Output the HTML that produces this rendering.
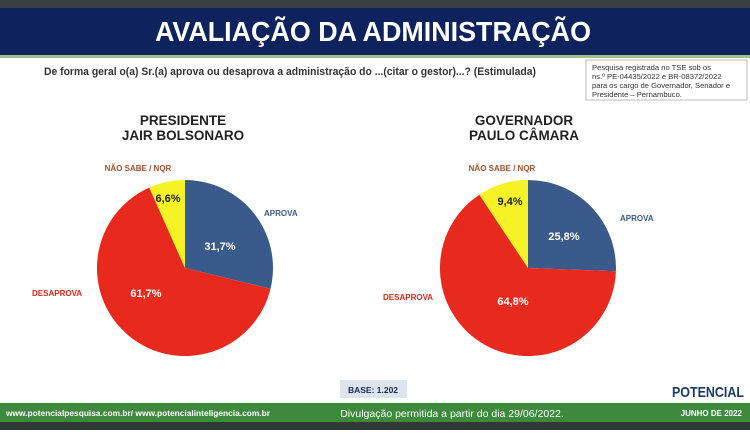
<!DOCTYPE html>
<html><head><meta charset="utf-8"><style>
body{margin:0;width:750px;height:430px;overflow:hidden;background:#fff;font-family:"Liberation Sans",sans-serif}
</style></head><body>
<svg width="750" height="430" xmlns="http://www.w3.org/2000/svg" font-family="Liberation Sans, sans-serif">
<rect x="0" y="0" width="750" height="8" fill="#3a3f44"/>
<rect x="0" y="8" width="750" height="47" fill="#0e235e"/>
<rect x="0" y="55" width="750" height="3" fill="#9bc48a"/>
<text x="155" y="41" font-size="28" font-weight="bold" fill="#fff" textLength="436" lengthAdjust="spacingAndGlyphs">AVALIAÇÃO DA ADMINISTRAÇÃO</text>
<text x="44" y="75" font-size="11" font-weight="bold" fill="#333" textLength="492" lengthAdjust="spacingAndGlyphs">De forma geral o(a) Sr.(a) aprova ou desaprova a administração do ...(citar o gestor)...? (Estimulada)</text>
<rect x="586" y="60" width="161" height="40" fill="#fff" stroke="#bbb"/>
<g font-size="7.6" fill="#333"><text x="592" y="70">Pesquisa registrada no TSE sob os</text><text x="592" y="79">ns.º PE-04435/2022 e BR-08372/2022</text><text x="592" y="88">para os cargo de Governador, Senador e</text><text x="592" y="97">Presidente – Pernambuco.</text></g>

<g font-weight="bold">
<text x="183" y="125" text-anchor="middle" font-size="13.5" fill="#222">PRESIDENTE</text>
<text x="183" y="140" text-anchor="middle" font-size="13.5" fill="#222">JAIR BOLSONARO</text>
<path d="M185,268 L185,180 A88,88 0 0,1 270.5,288.8 Z" fill="#3b5a8c"/>
<path d="M185,268 L270.5,288.8 A88,88 0 1,1 149.3,187.6 Z" fill="#e8291e"/>
<path d="M185,268 L149.3,187.6 A88,88 0 0,1 185,180 Z" fill="#f6f226"/>
<text x="220" y="250" text-anchor="middle" font-size="11" fill="#fff">31,7%</text>
<text x="146" y="297" text-anchor="middle" font-size="11" fill="#fff">61,7%</text>
<text x="168" y="202" text-anchor="middle" font-size="11" fill="#222">6,6%</text>
<text x="138" y="171" text-anchor="middle" font-size="8" fill="#a0522d">NÃO SABE / NQR</text>
<text x="264" y="216" font-size="8" fill="#3b5a8c">APROVA</text>
<text x="32" y="296" font-size="8" fill="#d9281e">DESAPROVA</text>

<text x="524" y="125" text-anchor="middle" font-size="13.5" fill="#222">GOVERNADOR</text>
<text x="524" y="140" text-anchor="middle" font-size="13.5" fill="#222">PAULO CÂMARA</text>
<path d="M528,268 L528,180 A88,88 0 0,1 615.9,271.3 Z" fill="#3b5a8c"/>
<path d="M528,268 L615.9,271.3 A88,88 0 1,1 479.4,194.7 Z" fill="#e8291e"/>
<path d="M528,268 L479.4,194.7 A88,88 0 0,1 528,180 Z" fill="#f6f226"/>
<text x="564" y="240" text-anchor="middle" font-size="11" fill="#fff">25,8%</text>
<text x="513" y="305" text-anchor="middle" font-size="11" fill="#fff">64,8%</text>
<text x="510" y="205" text-anchor="middle" font-size="11" fill="#222">9,4%</text>
<text x="502" y="171" text-anchor="middle" font-size="8" fill="#a0522d">NÃO SABE / NQR</text>
<text x="620" y="221" font-size="8" fill="#3b5a8c">APROVA</text>
<text x="383" y="300" font-size="8" fill="#d9281e">DESAPROVA</text>
</g>

<rect x="340" y="380" width="67" height="18" fill="#dde4ee"/>
<text x="373" y="393" text-anchor="middle" font-size="8.5" font-weight="bold" fill="#1a2a5a">BASE: 1.202</text>
<text x="708" y="397" font-size="15" font-weight="bold" fill="#1b3a6a" text-anchor="middle" textLength="72" lengthAdjust="spacingAndGlyphs">POTENCIAL</text>
<rect x="0" y="403" width="750" height="19" fill="#3e8a3c"/>
<rect x="0" y="422" width="750" height="8" fill="#2e3a33"/>
<text x="6" y="416" font-size="7.8" font-weight="bold" fill="#fff" textLength="264" lengthAdjust="spacingAndGlyphs">www.potencialpesquisa.com.br/ www.potencialinteligencia.com.br</text>
<text x="452" y="417" text-anchor="middle" font-size="10.5" fill="#fff">Divulgação permitida a partir do dia 29/06/2022.</text>
<text x="742" y="416" text-anchor="end" font-size="8" font-weight="bold" fill="#fff">JUNHO DE 2022</text>
</svg>
</body></html>
